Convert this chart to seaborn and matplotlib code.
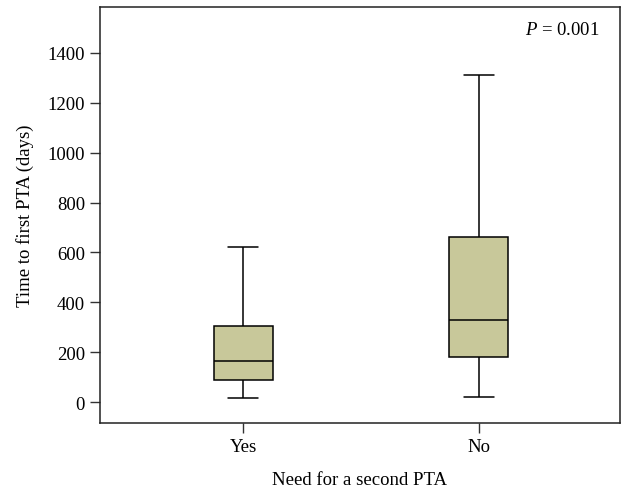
import numpy as np
import pandas as pd
import seaborn as sns
from matplotlib import pyplot as plt

# five-number summaries: min, Q1, median, Q3, max
groups = ["Yes", "No"]
yes_summary = [18, 91, 164, 304, 623]
no_summary = [21, 183, 331, 661, 1309]
y_ticks = [0, 200, 400, 600, 800, 1000, 1200, 1400]
p_text = "$P$ = 0.001"


def main():
    sns.set_style("ticks")
    plt.rcParams["font.family"] = ["Liberation Serif", "DejaVu Serif"]
    plt.rcParams["mathtext.fontset"] = "custom"
    plt.rcParams["mathtext.it"] = "Liberation Serif:italic"
    plt.rcParams["mathtext.rm"] = "Liberation Serif"
    plt.rcParams["text.color"] = "black"
    plt.rcParams["axes.labelcolor"] = "black"
    plt.rcParams["xtick.labelcolor"] = "black"
    plt.rcParams["ytick.labelcolor"] = "black"

    df = pd.DataFrame(
        {
            "group": ["Yes"] * len(yes_summary) + ["No"] * len(no_summary),
            "days": yes_summary + no_summary,
        }
    )

    fig, ax = plt.subplots(figsize=(6.22, 4.89), dpi=100)
    line_kws = {"color": "black", "linewidth": 1.1}
    sns.boxplot(
        data=df,
        x="group",
        y="days",
        order=groups,
        whis=(0, 100),
        width=0.25,
        color="#c8c89a",
        saturation=1,
        linecolor="black",
        linewidth=1.1,
        medianprops=line_kws,
        whiskerprops=line_kws,
        capprops=line_kws,
        boxprops={"edgecolor": "black", "linewidth": 1.1},
        ax=ax,
    )

    ax.set_xlim(-0.61, 1.6)
    ax.set_ylim(-83, 1584)
    ax.set_yticks(y_ticks)
    ax.set_xlabel("Need for a second PTA", fontsize=13.5, labelpad=12)
    ax.set_ylabel("Time to first PTA (days)", fontsize=13.5, labelpad=10)
    ax.tick_params(axis="both", labelsize=13.5, length=7, width=1,
                   color="#333333", direction="out")
    for spine in ax.spines.values():
        spine.set_visible(True)
        spine.set_linewidth(1.1)
        spine.set_color("#222222")

    ax.text(0.96, 0.945, p_text, transform=ax.transAxes, ha="right",
            va="center", fontsize=13.5)

    fig.subplots_adjust(left=0.16, right=0.997, top=0.984, bottom=0.133)
    fig.savefig("out.png", dpi=100)


if __name__ == "__main__":
    main()
